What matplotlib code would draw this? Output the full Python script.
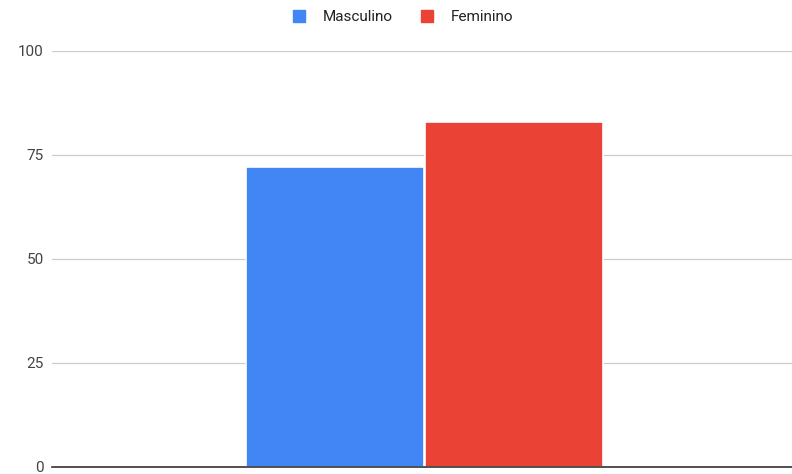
import matplotlib.pyplot as plt
from matplotlib.patches import Patch

# dados
series = ["Masculino", "Feminino"]
values = [72, 83]
colors = ["#4285F4", "#EA4335"]
yticks = [0, 25, 50, 75, 100]

plt.rcParams["font.family"] = ["Roboto", "DejaVu Sans"]

fig = plt.figure(figsize=(7.92, 4.74), dpi=100)
ax = fig.add_axes([52 / 792, 1 - 467 / 474, 740 / 792, (467 - 51) / 474])

width = 0.241
offsets = [-0.1176, 0.1245]
for name, v, c, off in zip(series, values, colors, offsets):
    ax.bar(off, v, width=width, color=c, edgecolor="white", linewidth=1.2,
           label=name, zorder=3)

ax.set_xlim(-0.5, 0.5)
ax.set_ylim(0, 100)
ax.set_yticks(yticks)
ax.set_yticklabels([str(t) for t in yticks], fontsize=11, color="#444444")
ax.tick_params(axis="y", length=0, pad=6)
ax.set_xticks([])
ax.grid(axis="y", color="#cccccc", linewidth=0.9, zorder=0)
for s in ["top", "right", "left"]:
    ax.spines[s].set_visible(False)
ax.spines["bottom"].set_color("#333333")
ax.spines["bottom"].set_linewidth(1.2)
ax.spines["bottom"].set_zorder(4)

handles = [Patch(facecolor=c, edgecolor=c) for c in colors]
fig.legend(handles, series, loc="center", bbox_to_anchor=(403 / 792, 1 - 17 / 474),
           ncol=2, frameon=False, fontsize=11, handlelength=0.8, handleheight=0.8,
           handletextpad=1.15, columnspacing=1.8, labelcolor="#222222")

fig.savefig("out.png", dpi=100)
